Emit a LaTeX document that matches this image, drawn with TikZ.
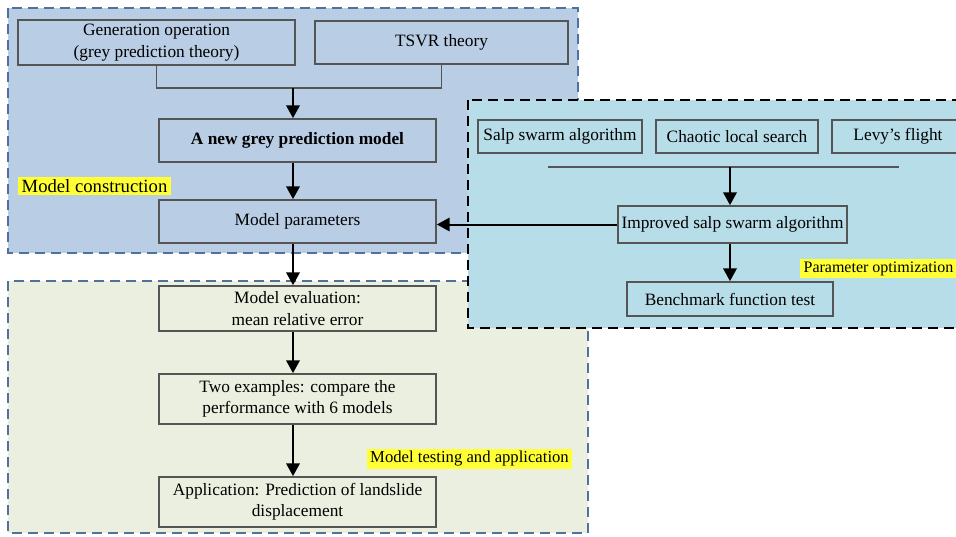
\documentclass[tikz,border=0pt]{standalone}
\usepackage{fontspec}
\setmainfont{Liberation Serif}
\usepackage{xcolor}
\usetikzlibrary{shapes,arrows.meta}
\usetikzlibrary{positioning}

\definecolor{constrblue}{RGB}{185,205,229}
\definecolor{optcyan}{RGB}{183,221,232}
\definecolor{testgreen}{RGB}{235,239,224}
\definecolor{dashblue}{RGB}{79,113,160}
\definecolor{boxgrey}{RGB}{85,85,85}
\definecolor{taggold}{RGB}{255,255,51}

\begin{document}
\begin{tikzpicture}[x=0.75pt, y=-0.75pt]
\tikzset{
stepbox/.style={draw=boxgrey, line width=1.3pt, inner sep=1pt, align=center,
    font=\fontsize{13}{16}\selectfont},
region/.style={line width=2.1pt, dash pattern=on 7.5pt off 4.5pt},
tag/.style={fill=taggold, inner xsep=2.5pt, inner ysep=2pt,
    font=\fontsize{12.5}{14}\selectfont},
flow/.style={-{Triangle[length=9.5pt,width=10pt]}, line width=1.5pt},
joint/.style={draw=boxgrey, line width=1.3pt}
 }
\useasboundingbox (0,0) rectangle (956,536);
% the three stages
\draw[region, draw=dashblue, fill=constrblue] (8,8) rectangle (578,253);
\draw[region, draw=dashblue, fill=testgreen] (8,281) rectangle (588,533);
\draw[region, draw=black, fill=optcyan] (468,100) rectangle (975,328);

% model construction
\node[stepbox, minimum width=207.75pt, minimum height=33.75pt] (gen) at (156.5,42.5)
    {Generation operation\\(grey prediction theory)};
\node[stepbox, minimum width=189.75pt, minimum height=32.25pt] (tsvr) at (441.5,42.5) {TSVR theory};
\coordinate (join) at (293,88);
\node[stepbox, minimum width=207.75pt, minimum height=32.25pt, font=\fontsize{13}{16}\selectfont\bfseries]
    (newm) at (297.5,140.5) {A new grey prediction model};
\node[stepbox, minimum width=207.75pt, minimum height=32.25pt] (mp) at (297.5,221.5) {Model parameters};
\node[tag, font=\fontsize{14}{16}\selectfont] (constrtag) at (94.5,186) {Model construction};

% parameter optimization
\node[stepbox, minimum width=123pt, minimum height=24.75pt] (salp) at (560,136.5) {Salp swarm algorithm};
\node[stepbox, minimum width=121.5pt, minimum height=24.75pt] (chaos) at (737,136.5) {Chaotic local search};
\node[stepbox, minimum width=99pt, minimum height=24.75pt] (levy) at (898,136.5) {Levy’s flight};
\coordinate (barL) at (548,167);
\coordinate (barR) at (899,167);
\node[stepbox, minimum width=171.75pt, minimum height=27.75pt] (impr) at (732.5,224.5) {Improved salp swarm algorithm};
\node[stepbox, minimum width=154.5pt, minimum height=25.5pt] (bench) at (730,299) {Benchmark function test};
\node[tag, anchor=west, font=\fontsize{12}{14}\selectfont] (opttag) at (800,268.5) {Parameter optimization};

% model testing and application
\node[stepbox, minimum width=207.75pt, minimum height=33.75pt] (eval) at (297.5,308.5)
    {Model evaluation:\\mean relative error};
\node[stepbox, minimum width=207.75pt, minimum height=37.5pt] (two) at (297.5,399)
    {Two examples: compare the\\performance with 6 models};
\node[stepbox, minimum width=207.75pt, minimum height=37.5pt] (app) at (297.5,502)
    {Application: Prediction of landslide\\displacement};
\node[tag] (testtag) at (469.5,459) {Model testing and application};

% connectors
\draw[joint] (gen.south) |- (join) -| (tsvr.south);
\draw[flow] (join) -- (newm.north -| join);
\draw[flow] (newm.south -| join) -- (mp.north -| join);
\draw[flow] (mp.south -| join) -- (eval.north -| join);
\draw[flow] (eval.south -| join) -- (two.north -| join);
\draw[flow] (two.south -| join) -- (app.north -| join);
\draw[joint] (barL) -- (barR);
\draw[flow] (barL -| bench) -- (impr.north -| bench);
\draw[flow] (impr.south -| bench) -- (bench.north);
\draw[flow] (impr.west) -- (impr.west -| mp.east);
\end{tikzpicture}
\end{document}
